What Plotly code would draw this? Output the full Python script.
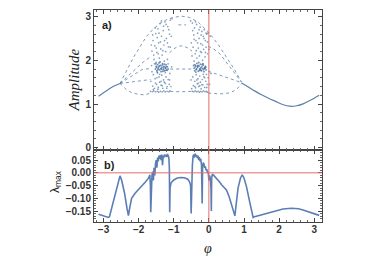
import plotly.graph_objects as go

# ---------------- data: panel a) bifurcation diagram ----------------
# single-period branch (left and right)
single_left_phi = [-3.14, -3.0, -2.85, -2.7, -2.53]
single_left_amp = [1.18, 1.26, 1.34, 1.41, 1.47]
single_right_phi = [0.93, 1.1, 1.3, 1.5, 1.7, 1.9, 2.1, 2.3, 2.5, 2.7, 2.9, 3.14]
single_right_amp = [1.48, 1.40, 1.30, 1.21, 1.13, 1.06, 0.99, 0.95, 0.96, 1.01, 1.09, 1.20]

# period-doubled branches (dotted)
outer_phi = [-2.53, -2.3, -2.15, -1.96, -1.78, -1.6, -1.4, -1.2, -1.02, -0.78, -0.55, -0.3, -0.02, 0.25, 0.5, 0.72, 0.93]
outer_amp = [1.47, 1.83, 2.06, 2.31, 2.54, 2.70, 2.84, 2.93, 2.98, 3.01, 2.98, 2.87, 2.65, 2.38, 2.08, 1.80, 1.50]

mid_left_phi = [-2.53, -2.2, -1.87, -1.66]
mid_left_amp = [1.47, 1.72, 1.96, 2.08]
mid_arch_phi = [-1.12, -1.0, -0.9, -0.8, -0.7, -0.6, -0.48]
mid_arch_amp = [2.17, 2.26, 2.31, 2.33, 2.32, 2.28, 2.21]
mid_right_phi = [-0.02, 0.12, 0.31, 0.5, 0.79, 0.93]
mid_right_amp = [2.32, 2.27, 2.15, 1.95, 1.64, 1.50]

lev_left_phi = [-2.53, -2.2, -1.9, -1.66]
lev_left_amp = [1.47, 1.64, 1.79, 1.81]
lev_mid_phi = [-1.1, -0.8, -0.49]
lev_mid_amp = [1.80, 1.80, 1.80]
lev_right_phi = [-0.02, 0.3, 0.69, 0.93]
lev_right_amp = [1.75, 1.66, 1.55, 1.49]

low2_left_phi = [-2.53, -2.2, -1.82, -1.66]
low2_left_amp = [1.47, 1.50, 1.54, 1.56]

low_left_phi = [-2.53, -2.35, -2.2, -2.0, -1.82, -1.66]
low_left_amp = [1.47, 1.33, 1.26, 1.22, 1.21, 1.25]
low_mid_phi = [-1.1, -0.8, -0.49]
low_mid_amp = [1.29, 1.28, 1.29]
low_right_phi = [-0.02, 0.31, 0.55, 0.69, 0.82, 0.93]
low_right_amp = [1.25, 1.23, 1.25, 1.29, 1.36, 1.47]

top_dash_phi = [-0.87, -0.65]
top_dash_amp = [2.81, 2.81]

# chaotic clouds
cloud1_phi = [-1.66, -1.61, -1.57, -1.52, -1.47, -1.43, -1.38, -1.33, -1.28, -1.24, -1.19, -1.14, -1.11,
              -1.65, -1.63, -1.62, -1.60, -1.59, -1.58, -1.56, -1.55, -1.54, -1.53, -1.51, -1.50, -1.49,
              -1.48, -1.46, -1.45, -1.44, -1.43, -1.42, -1.41, -1.40, -1.39, -1.37, -1.36, -1.35, -1.34,
              -1.33, -1.31, -1.30, -1.29, -1.28, -1.27, -1.25, -1.24, -1.23, -1.22, -1.21, -1.19, -1.18,
              -1.17, -1.16, -1.15, -1.13, -1.12, -1.11, -1.10,
              -1.64, -1.62, -1.60, -1.58, -1.57, -1.55, -1.53, -1.52, -1.50, -1.48, -1.47, -1.45, -1.44,
              -1.42, -1.40, -1.38, -1.36, -1.35, -1.33, -1.31, -1.29, -1.27, -1.26, -1.24, -1.22, -1.20,
              -1.18, -1.16, -1.14, -1.12, -1.10, -1.08, -1.07, -1.06, -1.05]
cloud1_amp = [1.29, 1.28, 1.30, 1.28, 1.29, 1.27, 1.29, 1.28, 1.30, 1.28, 1.29, 1.28, 1.30,
              1.52, 1.88, 2.21, 1.41, 2.45, 1.67, 2.02, 1.36, 2.33, 1.58, 2.61, 1.95, 1.45,
              2.18, 1.71, 2.72, 1.38, 2.40, 1.62, 2.05, 1.50, 2.84, 2.26, 1.43, 2.55, 1.66,
              2.12, 1.36, 2.68, 1.55, 2.35, 1.98, 2.88, 1.47, 2.20, 1.62, 2.50, 1.40, 2.02,
              2.77, 1.56, 2.31, 1.45, 2.60, 1.70, 2.92,
              2.35, 1.74, 2.58, 1.33, 2.12, 1.92, 2.74, 1.48, 2.28, 1.60, 2.52, 1.34, 2.15,
              2.62, 1.68, 2.42, 1.52, 2.90, 1.42, 2.22, 2.78, 1.50, 2.45, 1.72, 2.82, 1.36,
              2.40, 1.92, 2.70, 1.55, 2.30, 1.40, 2.55, 1.85, 2.95]
blob1_phi = [-1.52, -1.50, -1.48, -1.46, -1.44, -1.42, -1.40, -1.38, -1.36, -1.34, -1.32, -1.30, -1.28,
             -1.26, -1.24, -1.22, -1.20, -1.18, -1.16,
             -1.51, -1.47, -1.43, -1.39, -1.35, -1.31, -1.27, -1.23, -1.19,
             -1.49, -1.45, -1.41, -1.37, -1.33, -1.29, -1.25, -1.21]
blob1_amp = [1.80, 1.86, 1.76, 1.90, 1.82, 1.94, 1.78, 1.88, 1.74, 1.84, 1.92, 1.79, 1.86,
             1.76, 1.83, 1.90, 1.78, 1.85, 1.80,
             1.92, 1.73, 1.85, 1.96, 1.80, 1.75, 1.91, 1.82, 1.77,
             1.84, 1.79, 1.87, 1.81, 1.89, 1.83, 1.77, 1.86]

cloud2_phi = [-0.47, -0.43, -0.39, -0.35, -0.31, -0.27, -0.23, -0.19, -0.15, -0.11, -0.07, -0.04,
              -0.47, -0.46, -0.45, -0.44, -0.43, -0.42, -0.41, -0.40, -0.39, -0.38, -0.37, -0.36, -0.35,
              -0.34, -0.33, -0.32, -0.31, -0.30, -0.29, -0.28, -0.27, -0.26, -0.25, -0.24, -0.23, -0.22,
              -0.21, -0.20, -0.19, -0.18, -0.17, -0.16, -0.15, -0.14, -0.13, -0.12, -0.11, -0.10, -0.09,
              -0.08, -0.07, -0.06, -0.05, -0.04, -0.03,
              -0.52, -0.51, -0.50, -0.49, -0.48, -0.46, -0.44, -0.42, -0.40, -0.38, -0.36, -0.34, -0.32,
              -0.30, -0.28, -0.26, -0.24, -0.22, -0.20, -0.18, -0.16, -0.14, -0.12, -0.10, -0.08, -0.06,
              -0.04, -0.02, 0.00, 0.02, 0.04, 0.06]
cloud2_amp = [1.29, 1.28, 1.30, 1.28, 1.29, 1.27, 1.29, 1.28, 1.30, 1.28, 1.29, 1.27,
              2.85, 1.62, 2.30, 1.42, 2.58, 1.98, 2.74, 1.52, 2.15, 1.37, 2.45, 1.67, 2.82,
              2.05, 1.46, 2.62, 1.58, 2.28, 1.40, 2.50, 2.10, 1.64, 2.76, 1.50, 2.38, 1.35,
              2.18, 2.66, 1.56, 2.00, 1.44, 2.55, 2.25, 1.62, 2.70, 1.38, 2.08, 2.45, 1.52,
              2.30, 1.68, 2.60, 1.45, 2.15, 2.62,
              2.90, 1.55, 2.40, 1.35, 2.10, 2.68, 1.88, 2.48, 1.40, 2.88, 2.22, 1.55, 2.40,
              1.48, 2.70, 1.42, 2.20, 2.58, 1.44, 2.35, 1.68, 2.50, 1.60, 2.18, 2.62, 1.38,
              2.42, 1.60, 2.25, 1.45, 2.55, 1.70]
blob2_phi = [-0.42, -0.40, -0.38, -0.36, -0.34, -0.32, -0.30, -0.28, -0.26, -0.24, -0.22, -0.20, -0.18,
             -0.16, -0.14, -0.12, -0.10, -0.08,
             -0.41, -0.37, -0.33, -0.29, -0.25, -0.21, -0.17, -0.13, -0.09,
             -0.39, -0.35, -0.31, -0.27, -0.23, -0.19, -0.15, -0.11]
blob2_amp = [1.82, 1.76, 1.88, 1.79, 1.93, 1.84, 1.75, 1.87, 1.80, 1.91, 1.77, 1.85, 1.81,
             1.89, 1.74, 1.83, 1.86, 1.78,
             1.90, 1.73, 1.86, 1.95, 1.79, 1.76, 1.92, 1.81, 1.84,
             1.85, 1.80, 1.88, 1.77, 1.83, 1.90, 1.79, 1.82]

# ---------------- data: panel b) maximal Lyapunov exponent ----------------
lam_phi = [-3.14, -3.0, -2.86, -2.83, -2.75, -2.67, -2.6, -2.53, -2.48, -2.4, -2.33, -2.29, -2.25, -2.2,
           -2.1, -2.0, -1.9, -1.8, -1.72, -1.68, -1.665, -1.655, -1.645, -1.62, -1.6, -1.58, -1.56,
           -1.54, -1.52, -1.50, -1.48, -1.46, -1.44, -1.42, -1.40, -1.38, -1.36, -1.34, -1.32, -1.30,
           -1.28, -1.26, -1.24, -1.22, -1.20, -1.18, -1.16, -1.14, -1.125, -1.115, -1.105, -1.08, -1.0,
           -0.9, -0.8, -0.7, -0.6, -0.55, -0.52, -0.505, -0.49, -0.47, -0.45, -0.43, -0.41, -0.39,
           -0.37, -0.35, -0.33, -0.31, -0.29, -0.27, -0.25, -0.23, -0.21, -0.2, -0.19, -0.18, -0.16,
           -0.14, -0.12, -0.10, -0.08, -0.06, -0.04, -0.02, 0.0, 0.02, 0.04, 0.06, 0.07, 0.08, 0.1,
           0.15, 0.22, 0.3, 0.36, 0.45, 0.5, 0.58, 0.64, 0.7, 0.74, 0.78, 0.83, 0.9, 0.95, 1.0, 1.07,
           1.16, 1.22, 1.26, 1.3, 1.45, 1.64, 1.9, 2.11, 2.35, 2.55, 2.68, 2.9, 3.14]
lam_val = [-0.163, -0.170, -0.175, -0.172, -0.13, -0.087, -0.045, -0.012, -0.03, -0.08, -0.14, -0.168,
           -0.135, -0.10, -0.08, -0.067, -0.05, -0.035, -0.021, -0.008, -0.05, -0.155, -0.05, -0.01,
           0.005, -0.03, 0.02, -0.01, 0.035, 0.05, 0.02, 0.06, 0.045, 0.068, 0.055, 0.07, 0.05, 0.072,
           0.03, 0.068, 0.06, 0.072, 0.065, 0.07, 0.062, 0.074, 0.068, 0.06, 0.02, -0.155, -0.06,
           -0.04, -0.028, -0.02, -0.018, -0.019, -0.025, -0.035, -0.05, -0.16, -0.04, 0.03, 0.065,
           0.072, 0.06, 0.075, 0.065, 0.07, 0.058, 0.068, 0.05, 0.062, 0.045, 0.055, 0.03, -0.01,
           -0.12, 0.02, 0.04, 0.035, 0.02, 0.025, 0.01, 0.015, 0.0, 0.005, -0.03, -0.01, -0.02, -0.06,
           -0.15, -0.02, -0.005, -0.012, -0.021, -0.035, -0.047, -0.058, -0.067, -0.095, -0.126,
           -0.155, -0.169, -0.12, -0.06, -0.02, -0.008, -0.02, -0.054, -0.113, -0.16, -0.175, -0.172,
           -0.166, -0.159, -0.149, -0.142, -0.139, -0.141, -0.146, -0.155, -0.167]

x_ticks = [-3, -2, -1, 0, 1, 2, 3]
amp_ticks = [0, 1, 2, 3]
lam_ticks = [0.05, 0.0, -0.05, -0.10, -0.15]

# ---------------- figure ----------------
PT = "#5c80a8"
LN = "#5b7fb5"
fig = go.Figure()


def dotted(px, py):
    fig.add_trace(go.Scatter(x=px, y=py, mode="lines", xaxis="x2", yaxis="y2",
                             line=dict(color=PT, width=0.8, dash="dot"), showlegend=False,
                             hoverinfo="skip"))


fig.add_trace(go.Scatter(x=single_left_phi, y=single_left_amp, mode="lines", xaxis="x2", yaxis="y2",
                         line=dict(color=PT, width=1.2, shape="spline"), showlegend=False))
fig.add_trace(go.Scatter(x=single_right_phi, y=single_right_amp, mode="lines", xaxis="x2", yaxis="y2",
                         line=dict(color=PT, width=1.2, shape="spline"), showlegend=False))
for px, py in [(outer_phi, outer_amp), (mid_left_phi, mid_left_amp), (mid_arch_phi, mid_arch_amp),
               (mid_right_phi, mid_right_amp), (lev_left_phi, lev_left_amp), (lev_mid_phi, lev_mid_amp),
               (lev_right_phi, lev_right_amp), (low2_left_phi, low2_left_amp),
               (low_left_phi, low_left_amp), (low_mid_phi, low_mid_amp),
               (low_right_phi, low_right_amp), (top_dash_phi, top_dash_amp)]:
    dotted(px, py)
for px, py in [(cloud1_phi, cloud1_amp), (cloud2_phi, cloud2_amp)]:
    fig.add_trace(go.Scatter(x=px, y=py, mode="markers", xaxis="x2", yaxis="y2",
                             marker=dict(color=PT, size=1.7, opacity=0.75), showlegend=False))
for px, py in [(blob1_phi, blob1_amp), (blob2_phi, blob2_amp)]:
    fig.add_trace(go.Scatter(x=px, y=py, mode="markers", xaxis="x2", yaxis="y2",
                             marker=dict(color="#4a72a0", size=1.9, opacity=0.8), showlegend=False))

fig.add_trace(go.Scatter(x=lam_phi, y=lam_val, mode="lines", xaxis="x", yaxis="y",
                         line=dict(color=LN, width=1.6), showlegend=False))

TF = dict(family="Liberation Sans, Arial, sans-serif", size=10, color="#333333", weight="bold")
XR = [-3.27, 3.22]
common = dict(showline=True, linecolor="#444444", linewidth=1, mirror="allticks", ticks="inside",
              ticklen=4, tickcolor="#444444", showgrid=False, zeroline=False, automargin=False)
minor_x = dict(ticks="inside", ticklen=2, dtick=0.2, tickcolor="#666666", showgrid=False)

fig.update_layout(
    width=366, height=256,
    margin=dict(l=86, r=52, t=2, b=42),
    paper_bgcolor="white", plot_bgcolor="white",
    xaxis=dict(domain=[0, 1], anchor="y", range=XR, tickvals=x_ticks, tickfont=TF,
               ticklabelstandoff=-2, minor=minor_x, **common),
    yaxis=dict(domain=[0, 0.34], anchor="x", range=[-0.193, 0.09], tickvals=lam_ticks,
               tickformat=".2f", tickfont=TF,
               minor=dict(ticks="inside", ticklen=2, dtick=0.01, tickcolor="#666666", showgrid=False),
               **common),
    xaxis2=dict(domain=[0, 1], anchor="y2", range=XR, tickvals=x_ticks, showticklabels=False,
                minor=minor_x, **common),
    yaxis2=dict(domain=[0.34, 1], anchor="x2", range=[-0.05, 3.15], tickvals=amp_ticks, tickfont=TF,
                minor=dict(ticks="inside", ticklen=2, dtick=0.2, tickcolor="#666666", showgrid=False),
                **common),
    shapes=[
        dict(type="line", xref="x", yref="paper", x0=0, x1=0, y0=0, y1=1,
             line=dict(color="#e46c6c", width=1)),
        dict(type="line", xref="paper", yref="y", x0=0, x1=1, y0=0, y1=0,
             line=dict(color="#e46c6c", width=1)),
    ],
    annotations=[
        dict(text="a)", xref="paper", yref="paper", x=0.025, y=0.93, xanchor="left", yanchor="middle",
             showarrow=False, font=dict(family="Liberation Sans, Arial", size=11, color="#222",
                                        weight="bold")),
        dict(text="b)", xref="paper", yref="paper", x=0.035, y=0.27, xanchor="left", yanchor="middle",
             showarrow=False, font=dict(family="Liberation Sans, Arial", size=11, color="#222",
                                        weight="bold")),
        dict(text="<i>Amplitude</i>", xref="paper", yref="paper", x=-0.09, y=0.67,
             xanchor="center", yanchor="middle", textangle=-90, showarrow=False,
             font=dict(family="Liberation Serif, Times New Roman, serif", size=15, color="#222")),
        dict(text="λ<sub>max</sub>", xref="paper", yref="paper", x=-0.17, y=0.19,
             xanchor="center", yanchor="middle", textangle=-90, showarrow=False,
             font=dict(family="Liberation Sans, Arial", size=12, color="#222")),
        dict(text="<i>φ</i>", xref="paper", yref="paper", x=0.5, y=-0.123,
             xanchor="center", yanchor="middle", showarrow=False,
             font=dict(family="Liberation Serif, Times New Roman, serif", size=14, color="#222")),
    ],
)

fig.write_html("out.html")
